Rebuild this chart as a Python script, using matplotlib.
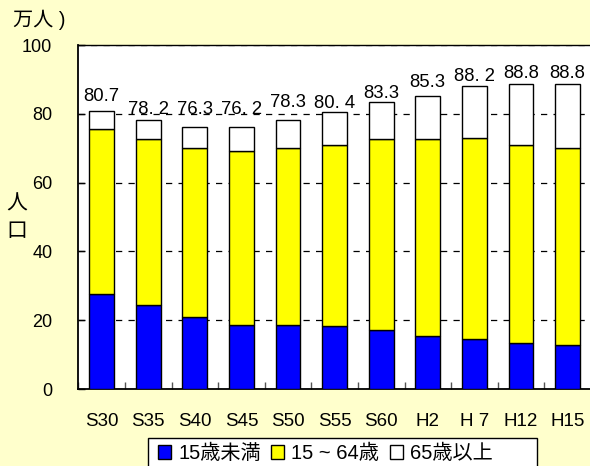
import matplotlib
matplotlib.use("Agg")
import matplotlib.pyplot as plt
from matplotlib.patches import Patch, Rectangle
import numpy as np

plt.rcParams['font.family'] = ['Liberation Sans', 'Noto Sans CJK JP', 'DejaVu Sans']

# Population by age group (unit: 10,000 people)
years = ["S30", "S35", "S40", "S45", "S50", "S55", "S60", "H2", "H 7", "H12", "H15"]
total_labels = ["80.7", "78. 2", "76.3", "76. 2", "78.3", "80. 4", "83.3", "85.3", "88. 2", "88.8", "88.8"]
under15 = [27.7, 24.5, 20.9, 18.7, 18.7, 18.2, 17.2, 15.5, 14.6, 13.5, 12.9]
age15_64 = [48.0, 48.2, 49.1, 50.4, 51.4, 52.8, 55.5, 57.2, 58.5, 57.5, 57.1]
series_names = ["15歳未満", "15 ~ 64歳", "65歳以上"]

totals = np.array([float(s.replace(" ", "")) for s in total_labels])
young = np.array(under15)
working = np.array(age15_64)
elderly = totals - young - working

# vertical offset (points) of each total label above its bar
label_lift_pt = [10.6, 7.2, 12.4, 12.2, 12.0, 6.6, 6.6, 9.3, 6.9, 7.3, 7.3]

W, H = 590, 466
bg = "#FFFFCC"
fig = plt.figure(figsize=(W / 100, H / 100), dpi=100, facecolor=bg)
ax = fig.add_axes([78.3 / W, 1 - 389 / H, (590.9 - 78.3) / W, (389 - 45) / H])
ax.set_facecolor("white")

x = np.arange(len(years))
w = 0.536
kw = dict(width=w, edgecolor="black", linewidth=1.0, zorder=3)
ax.bar(x, young, color="#0000FF", **kw)
ax.bar(x, working, bottom=young, color="#FFFF00", **kw)
ax.bar(x, elderly, bottom=young + working, color="white", **kw)

for xi, top, txt, lift in zip(x, totals, total_labels, label_lift_pt):
    ax.annotate(txt, (xi, top), xytext=(0, lift), textcoords="offset points",
                ha="center", va="center", fontsize=13.3, zorder=4)

ax.set_xlim(-0.5, len(years) - 0.5)
ax.set_ylim(0, 100)
ax.set_yticks([0, 20, 40, 60, 80, 100])
ax.set_xticks(x)
ax.set_xticklabels(years)
ax.set_xticks(np.arange(len(years) + 1) - 0.5, minor=True)

ax.tick_params(axis="x", which="major", length=0, pad=17, labelsize=13.5)
ax.tick_params(axis="x", which="minor", direction="in", length=5, width=1, color="#555555")
ax.tick_params(axis="y", which="major", direction="in", length=5, width=1,
               pad=18.7, labelsize=13)

ax.yaxis.grid(True, linestyle=(0, (5, 5)), color="black", linewidth=0.9, zorder=0)
ax.set_axisbelow(True)

for side in ["left", "bottom", "top"]:
    ax.spines[side].set_color("black")
    ax.spines[side].set_linewidth(1.3)
ax.spines["top"].set_linewidth(1.0)
ax.spines["right"].set_visible(False)

# unit and axis captions
fig.text(13 / W, 1 - 20 / H, "万人 )", fontsize=14.5, ha="left", va="center")
fig.text(17 / W, 1 - 204 / H, "人", fontsize=15, ha="center", va="center")
fig.text(17 / W, 1 - 231 / H, "口", fontsize=15, ha="center", va="center")

# legend box (runs off the bottom edge) with the entries laid on top
fig.add_artist(Rectangle((148.3 / W, 1 - 475 / H), (536.7 - 148.3) / W, (475 - 438.3) / H,
                         transform=fig.transFigure, facecolor="white",
                         edgecolor="black", linewidth=1.0, zorder=4))
handles = [Patch(facecolor=c, edgecolor="black", linewidth=1.0)
           for c in ["#0000FF", "#FFFF00", "white"]]
leg = fig.legend(handles, series_names, loc="upper left",
                 bbox_to_anchor=(148.3 / W, 1 - 434.3 / H), ncol=3,
                 frameon=False, fontsize=14.5, handlelength=0.65, handleheight=0.65,
                 handletextpad=0.35, columnspacing=0.52, borderpad=0.48,
                 borderaxespad=0)
leg.set_zorder(5)

fig.savefig("out.png", dpi=100, facecolor=bg)
